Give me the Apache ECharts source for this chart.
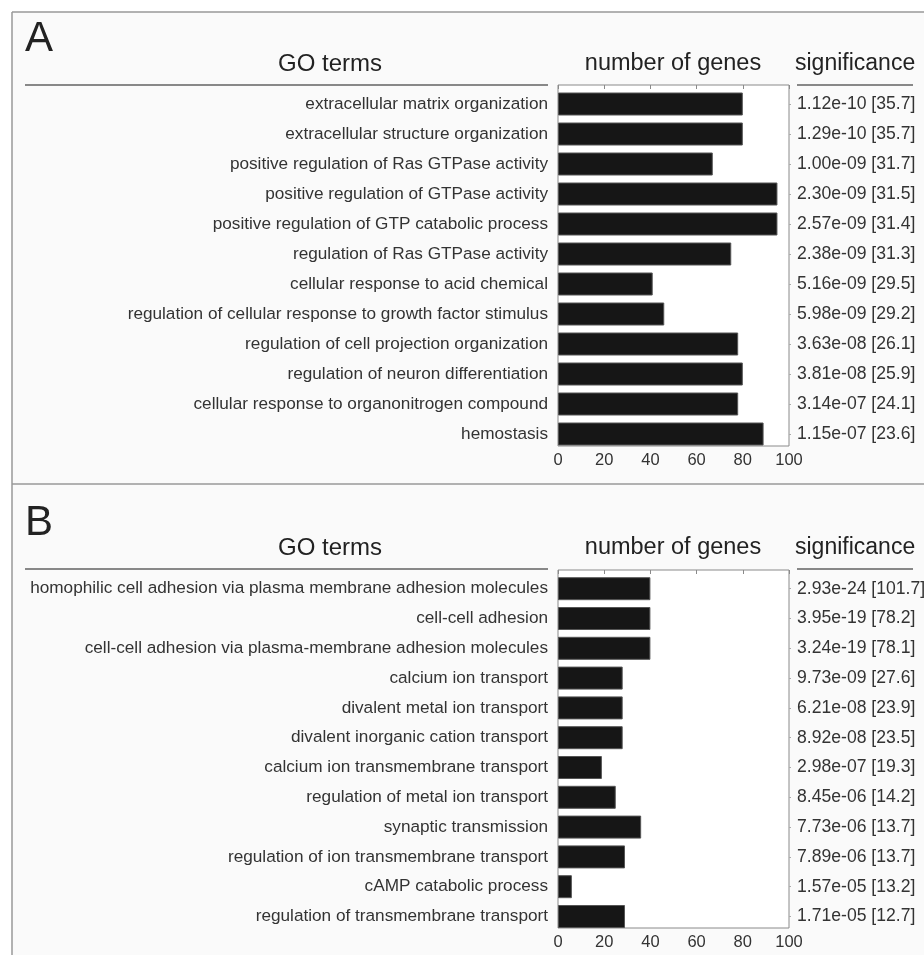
<!DOCTYPE html>
<html>
<head>
<meta charset="utf-8">
<script src="https://cdn.jsdelivr.net/npm/echarts@6/dist/echarts.min.js"></script>
<style>
html,body{margin:0;padding:0;background:#ffffff;}
#chart{width:924px;height:955px;}
</style>
</head>
<body>
<div id="chart"></div>
<script>
// ---------- DATA ----------
const termsA = [
  'extracellular matrix organization',
  'extracellular structure organization',
  'positive regulation of Ras GTPase activity',
  'positive regulation of GTPase activity',
  'positive regulation of GTP catabolic process',
  'regulation of Ras GTPase activity',
  'cellular response to acid chemical',
  'regulation of cellular response to growth factor stimulus',
  'regulation of cell projection organization',
  'regulation of neuron differentiation',
  'cellular response to organonitrogen compound',
  'hemostasis'
];
const genesA = [80, 80, 67, 95, 95, 75, 41, 46, 78, 80, 78, 89];
const pvalA = ['1.12e-10','1.29e-10','1.00e-09','2.30e-09','2.57e-09','2.38e-09','5.16e-09','5.98e-09','3.63e-08','3.81e-08','3.14e-07','1.15e-07'];
const scoreA = [35.7, 35.7, 31.7, 31.5, 31.4, 31.3, 29.5, 29.2, 26.1, 25.9, 24.1, 23.6];

const termsB = [
  'homophilic cell adhesion via plasma membrane adhesion molecules',
  'cell-cell adhesion',
  'cell-cell adhesion via plasma-membrane adhesion molecules',
  'calcium ion transport',
  'divalent metal ion transport',
  'divalent inorganic cation transport',
  'calcium ion transmembrane transport',
  'regulation of metal ion transport',
  'synaptic transmission',
  'regulation of ion transmembrane transport',
  'cAMP catabolic process',
  'regulation of transmembrane transport'
];
const genesB = [40, 40, 40, 28, 28, 28, 19, 25, 36, 29, 6, 29];
const pvalB = ['2.93e-24','3.95e-19','3.24e-19','9.73e-09','6.21e-08','8.92e-08','2.98e-07','8.45e-06','7.73e-06','7.89e-06','1.57e-05','1.71e-05'];
const scoreB = [101.7, 78.2, 78.1, 27.6, 23.9, 23.5, 19.3, 14.2, 13.7, 13.7, 13.2, 12.7];

const xTicks = [0, 20, 40, 60, 80, 100];
const headers = ['GO terms', 'number of genes', 'significance'];
const panelLetters = ['A', 'B'];

// ---------- STYLE ----------
const FONT = '"Liberation Sans", Arial, Helvetica, sans-serif';
const TXT = '#333333';
const FRAME = '#8a8a8a';

const sigA = pvalA.map((p, i) => p + ' [' + scoreA[i].toFixed(1) + ']');
const sigB = pvalB.map((p, i) => p + ' [' + scoreB[i].toFixed(1) + ']');

const panels = [
  {frameTop: 85, frameBottom: 446, barTop: 89, barH: 360, off: 0, terms: termsA, genes: genesA, sig: sigA},
  {frameTop: 570, frameBottom: 928, barTop: 573.8, barH: 357.6, off: 484, terms: termsB, genes: genesB, sig: sigB}
];
const PLOT_LEFT = 558, PLOT_RIGHT = 789;

const grids = [], xAxes = [], yAxes = [], series = [];
panels.forEach((p, k) => {
  grids.push({left: PLOT_LEFT, width: PLOT_RIGHT - PLOT_LEFT, top: p.frameTop, height: p.frameBottom - p.frameTop,
    show: true, backgroundColor: '#ffffff', borderColor: FRAME, borderWidth: 1,
    containLabel: false, outerBoundsMode: 'none'});
  grids.push({left: PLOT_LEFT, width: PLOT_RIGHT - PLOT_LEFT, top: p.barTop, height: p.barH, show: false,
    containLabel: false, outerBoundsMode: 'none'});
  const fg = 2 * k, bg = 2 * k + 1;
  xAxes.push({gridIndex: fg, type: 'value', min: xTicks[0], max: xTicks[xTicks.length - 1], interval: 20,
    position: 'bottom', axisLine: {show: false}, splitLine: {show: false},
    axisTick: {show: false},
    axisLabel: {color: TXT, fontFamily: FONT, fontSize: 16.5, margin: 6}});
  xAxes.push({gridIndex: fg, type: 'value', min: 0, max: 100, interval: 20, position: 'top',
    axisLine: {show: false}, splitLine: {show: false}, axisLabel: {show: false},
    axisTick: {show: true, inside: true, length: 4, lineStyle: {color: FRAME}}});
  xAxes.push({gridIndex: bg, type: 'value', min: 0, max: 100, show: false});
  yAxes.push({gridIndex: fg, type: 'value', show: false});
  yAxes.push({gridIndex: bg, type: 'category', data: p.terms, inverse: true, position: 'left',
    axisLine: {show: false}, axisTick: {show: false},
    axisLabel: {color: TXT, fontFamily: FONT, fontSize: 17.2, margin: 10, hideOverlap: false}});
  yAxes.push({gridIndex: bg, type: 'category', data: p.sig, inverse: true, position: 'right',
    axisLine: {show: false},
    axisTick: {show: true, alignWithLabel: true, length: 2, lineStyle: {color: '#aaaaaa'}},
    axisLabel: {color: TXT, fontFamily: FONT, fontSize: 17.6, margin: 8, align: 'left', hideOverlap: false}});
  series.push({type: 'bar', xAxisIndex: 3 * k + 2, yAxisIndex: 3 * k + 1, data: p.genes,
    barWidth: 23, itemStyle: {color: '#161616', borderColor: '#555555', borderWidth: 1}, silent: true});
});

const graphics = [];
graphics.push({type: 'rect', shape: {x: 12, y: 12, width: 912, height: 943}, style: {fill: '#fafafa'}, z: -10});
graphics.push({type: 'line', shape: {x1: 12, y1: 12, x2: 924, y2: 12}, style: {stroke: '#999', lineWidth: 1.5}});
graphics.push({type: 'line', shape: {x1: 12, y1: 12, x2: 12, y2: 955}, style: {stroke: '#999', lineWidth: 1.5}});
graphics.push({type: 'line', shape: {x1: 12, y1: 484, x2: 924, y2: 484}, style: {stroke: '#999', lineWidth: 1.5}});
panels.forEach((p, k) => {
  const o = p.off;
  graphics.push({type: 'text', x: 25, y: 39 + o, style: {text: panelLetters[k], font: '42px ' + FONT, fill: '#222', verticalAlign: 'middle'}});
  graphics.push({type: 'text', x: 330, y: 64 + o, style: {text: headers[0], font: '24px ' + FONT, fill: '#222', align: 'center', verticalAlign: 'middle'}});
  graphics.push({type: 'text', x: 673, y: 64 + o, style: {text: headers[1], font: '23.5px ' + FONT, fill: '#222', align: 'center', verticalAlign: 'middle'}});
  graphics.push({type: 'text', x: 795, y: 64 + o, style: {text: headers[2], font: '23px ' + FONT, fill: '#222', align: 'left', verticalAlign: 'middle'}});
  graphics.push({type: 'line', shape: {x1: 25, y1: 85 + o, x2: 548, y2: 85 + o}, style: {stroke: '#888', lineWidth: 2}});
  graphics.push({type: 'line', shape: {x1: 797, y1: 85 + o, x2: 913, y2: 85 + o}, style: {stroke: '#888', lineWidth: 2}});
});

const chart = echarts.init(document.getElementById('chart'), null, {renderer: 'canvas'});
chart.setOption({
  animation: false,
  backgroundColor: '#ffffff',
  grid: grids,
  xAxis: xAxes,
  yAxis: yAxes,
  series: series,
  graphic: graphics
});
</script>
</body>
</html>
